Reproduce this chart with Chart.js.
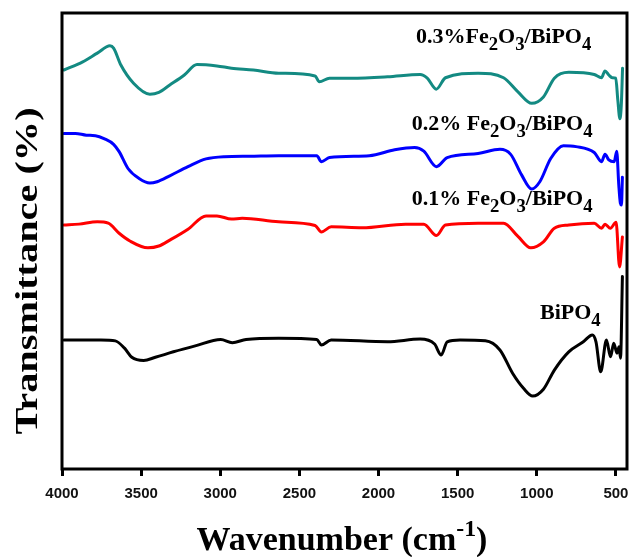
<!DOCTYPE html>
<html><head><meta charset="utf-8">
<script src="https://cdn.jsdelivr.net/npm/chart.js@4.4.1/dist/chart.umd.min.js"></script>
<style>html,body{margin:0;padding:0;background:#fff}#wrap{width:630px;height:557px;position:relative}</style>
</head><body><div id="wrap"><canvas id="c" width="630" height="557"></canvas></div>
<script>
// ---- data (wavenumber in cm-1, transmittance in arbitrary offset units) ----
const xTickValues = [4000, 3500, 3000, 2500, 2000, 1500, 1000, 500];
const seriesNames = ['0.3%Fe2O3/BiPO4', '0.2% Fe2O3/BiPO4', '0.1% Fe2O3/BiPO4', 'BiPO4'];

const tealWavenumber = [3988,3869,3777,3697,3674,3628,3548,3445,3388,3319,3227,3147,3021,2929,2791,2631,2401,2374,2310,2173,1943,1737,1692,1635,1577,1371,1210,1119,1032,958,889,798,637,591,569,545,523,501,488,475,466,458];
const tealTransmittance = [87.5,89.3,91.2,92.8,92.3,88.6,84.6,82.2,82.6,84.2,86.4,88.7,88.4,87.9,87.5,86.8,86.2,84.9,85.7,85.7,86.0,86.5,85.7,83.3,85.8,86.8,85.8,82.7,80.2,81.6,85.7,87.0,86.5,85.8,87.3,86.4,85.8,85.7,80.9,76.8,79.8,87.9];

const blueWavenumber = [3988,3915,3846,3789,3731,3674,3639,3583,3513,3445,3399,3319,3204,3090,2975,2815,2631,2390,2361,2310,2058,1898,1772,1714,1634,1566,1371,1233,1165,1096,1032,981,912,832,752,637,591,569,545,511,495,482,472,465,459];
const blueTransmittance = [73.6,73.6,73.2,73.1,72.4,71.2,69.6,65.9,63.7,62.7,63.0,64.3,66.3,68.0,68.5,68.6,68.7,68.7,67.4,68.3,68.7,70.0,70.5,69.7,66.3,68.3,69.2,70.1,69.0,64.5,61.4,63.0,68.1,70.9,70.7,69.4,67.4,69.0,67.8,67.4,69.7,62.3,58.3,57.9,64.0];

const redWavenumber = [3988,3892,3777,3708,3639,3571,3457,3388,3319,3204,3090,3021,2929,2861,2631,2401,2361,2299,2104,1829,1714,1634,1577,1371,1210,1119,1038,958,889,798,637,591,569,535,499,477,459];
const redTransmittance = [53.5,53.7,54.2,53.9,51.7,50.0,48.5,48.9,50.2,52.6,55.5,55.5,54.8,55.0,54.2,53.4,52.0,53.1,52.9,53.7,53.7,51.2,53.5,53.9,53.9,51.0,48.5,49.8,52.8,53.5,53.9,52.8,53.7,52.8,54.1,44.3,50.9];

const blackWavenumber = [3988,3869,3754,3663,3605,3559,3484,3410,3296,3158,2997,2924,2837,2631,2390,2361,2299,1943,1737,1646,1604,1566,1485,1325,1233,1153,1084,1026,958,889,798,706,649,626,596,560,534,514,493,480,471,459];
const blackTransmittance = [28.3,28.3,28.3,28.1,26.5,24.5,23.8,24.5,25.7,27.0,28.4,27.7,28.4,28.7,28.4,27.2,28.3,27.9,28.5,27.4,25.0,27.9,28.3,28.1,26.1,21.0,17.7,16.0,17.5,21.7,25.7,27.9,29.4,27.9,21.3,28.3,24.6,27.6,25.4,26.8,24.3,42.2];

// ---- helpers ----
const SERIF = '"Liberation Serif","Times New Roman",Times,serif';
const SANS = '"Liberation Sans",Arial,Helvetica,sans-serif';
function toPoints(xs, ys) { return xs.map((x, i) => ({ x: x, y: ys[i] })); }
// split a chemical name into [text, kind] segments, digits after letters -> subscript
function chemSegments(name) {
  const segs = [];
  const re = /([A-Za-z])(\d)/g;
  let last = 0, m;
  while ((m = re.exec(name)) !== null) {
    segs.push([name.slice(last, m.index + 1), '']);
    segs.push([m[2], 'sub']);
    last = m.index + 2;
  }
  if (last < name.length) segs.push([name.slice(last), '']);
  return segs;
}
function drawRich(ctx, segs, x, y, size, subScale) {
  let cx = x;
  for (const [t, k] of segs) {
    const s = k ? size * subScale : size;
    ctx.font = 'bold ' + s + 'px ' + SERIF;
    const dy = k === 'sub' ? size * 0.32 : (k === 'sup' ? -size * 0.40 : 0);
    ctx.fillText(t, cx, y + dy);
    cx += ctx.measureText(t).width;
  }
  return cx - x;
}
function richWidth(ctx, segs, size, subScale) {
  let w = 0;
  for (const [t, k] of segs) {
    ctx.font = 'bold ' + (k ? size * subScale : size) + 'px ' + SERIF;
    w += ctx.measureText(t).width;
  }
  return w;
}

const decorPlugin = {
  id: 'decor',
  afterDraw(chart, args, opts) {
    const ctx = chart.ctx, a = chart.chartArea, sx = chart.scales.x, sy = chart.scales.y;
    ctx.save();
    // frame
    ctx.strokeStyle = '#000';
    ctx.lineWidth = 3;
    ctx.strokeRect(a.left, a.top, a.right - a.left, a.bottom - a.top);
    ctx.fillStyle = '#000';
    ctx.textBaseline = 'alphabetic';
    ctx.textAlign = 'left';
    // series labels
    opts.labels.forEach((lb, i) => {
      const segs = chemSegments(seriesNames[i]);
      drawRich(ctx, segs, sx.getPixelForValue(lb.wn), sy.getPixelForValue(lb.t), opts.labelSize, 0.85);
    });
    // x title: Wavenumber (cm-1)
    const xt = [['Wavenumber (cm', ''], ['-1', 'sup'], [')', '']];
    const xs = opts.xTitleSize;
    const xw = richWidth(ctx, xt, xs, 0.7);
    drawRich(ctx, xt, opts.xTitleCenter - xw / 2, opts.xTitleBaseline, xs, 0.7);
    // y title
    ctx.translate(opts.yTitleX, opts.yTitleY);
    ctx.rotate(-Math.PI / 2);
    ctx.scale(opts.yTitleStretch, 1);
    ctx.font = 'bold ' + opts.yTitleSize + 'px ' + SERIF;
    ctx.textAlign = 'center';
    ctx.textBaseline = 'middle';
    ctx.fillText('Transmittance (%)', 0, 0);
    ctx.restore();
  }
};

const colors = ['#138a82', '#0000ff', '#ff0000', '#000000'];
const sets = [
  toPoints(tealWavenumber, tealTransmittance),
  toPoints(blueWavenumber, blueTransmittance),
  toPoints(redWavenumber, redTransmittance),
  toPoints(blackWavenumber, blackTransmittance)
];

new Chart(document.getElementById('c'), {
  type: 'line',
  data: {
    datasets: sets.map((d, i) => ({
      label: seriesNames[i],
      data: d,
      borderColor: colors[i],
      backgroundColor: colors[i],
      borderWidth: 3,
      pointRadius: 0,
      cubicInterpolationMode: 'monotone',
      borderJoinStyle: 'round',
      borderCapStyle: 'round',
      fill: false
    }))
  },
  options: {
    responsive: false,
    devicePixelRatio: 1,
    animation: false,
    layout: { padding: { left: 62, top: 13, right: 3, bottom: 0 } },
    plugins: {
      legend: { display: false },
      tooltip: { enabled: false },
      decor: {
        labels: [
          { wn: 1763, t: 93.4 },
          { wn: 1790, t: 74.3 },
          { wn: 1790, t: 57.9 },
          { wn: 980, t: 32.8 }
        ],
        labelSize: 22,
        xTitleSize: 34,
        xTitleCenter: 342,
        xTitleBaseline: 550,
        yTitleX: 29,
        yTitleY: 271,
        yTitleSize: 31,
        yTitleStretch: 1.3
      }
    },
    scales: {
      x: {
        type: 'linear',
        reverse: true,
        min: 430,
        max: 4000,
        afterBuildTicks(scale) {
          scale.ticks = xTickValues.map(v => ({ value: v }));
        },
        afterFit(scale) {
          scale.height = 88;
          scale.paddingLeft = 0;
          scale.paddingRight = 0;
        },
        border: { display: false },
        grid: { display: true, drawOnChartArea: false, drawTicks: true, tickLength: 7, tickWidth: 3, tickColor: '#000' },
        ticks: {
          color: '#111',
          font: { family: SANS, size: 15, weight: 'bold' },
          padding: 9,
          maxRotation: 0,
          autoSkip: false,
          callback: v => String(v)
        }
      },
      y: {
        display: false,
        min: 0,
        max: 100
      }
    }
  },
  plugins: [decorPlugin]
});
</script>
</body></html>
